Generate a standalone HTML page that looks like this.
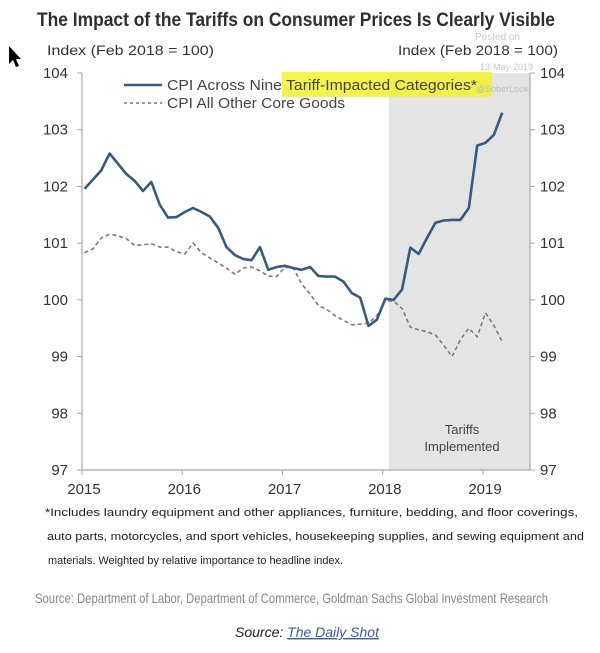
<!DOCTYPE html>
<html><head><meta charset="utf-8"><style>
html,body{margin:0;padding:0;background:#fff;width:600px;height:653px;overflow:hidden}
svg{display:block}
</style></head><body>
<svg id="chart" width="600" height="653" viewBox="0 0 600 653" xmlns="http://www.w3.org/2000/svg" font-family="Liberation Sans, Arial, sans-serif">
<path d="M9,46 L9,64 L13,60 L16,67 L19,66 L16,59 L21,59 Z" fill="#000"/>
<text x="37" y="26" font-size="19" font-weight="bold" fill="#2b2f36" textLength="518" lengthAdjust="spacingAndGlyphs" font-family="Liberation Sans Narrow, Liberation Sans, sans-serif">The Impact of the Tariffs on Consumer Prices Is Clearly Visible</text>
<text x="475" y="40" font-size="10" fill="#c8c8c8">Posted on</text>
<text x="480" y="70" font-size="9" fill="#c8c8c8">13-May-2019</text>
<text x="47" y="55" font-size="14" fill="#333" textLength="167" lengthAdjust="spacingAndGlyphs">Index (Feb 2018  = 100)</text>
<text x="398" y="55" font-size="14" fill="#333" textLength="160" lengthAdjust="spacingAndGlyphs">Index (Feb 2018 = 100)</text>
<rect x="389" y="73" width="141" height="397" fill="#e4e4e4"/>
<rect x="282" y="72" width="210" height="25" fill="#f3f230" opacity="0.85"/>
<g id="axes"></g>
<g id="series"></g>
<line x1="124" y1="85" x2="162" y2="85" stroke="#365a80" stroke-width="2.5"/>
<text x="167" y="90" font-size="15" fill="#444" textLength="310" lengthAdjust="spacingAndGlyphs">CPI Across Nine Tariff-Impacted Categories*</text>
<text x="476" y="92" font-size="9" fill="#bbb">@SoberLook</text>
<line x1="124" y1="103" x2="162" y2="103" stroke="#777" stroke-width="1.5" stroke-dasharray="3,3"/>
<text x="167" y="108" font-size="15" fill="#444" textLength="178" lengthAdjust="spacingAndGlyphs">CPI All Other Core Goods</text>
<text x="462" y="434" font-size="13" fill="#444" text-anchor="middle">Tariffs</text>
<text x="462" y="451" font-size="13" fill="#444" text-anchor="middle">Implemented</text>
<text x="45" y="516" font-size="11" fill="#222" textLength="533" lengthAdjust="spacingAndGlyphs">*Includes laundry equipment and other appliances, furniture, bedding, and floor coverings,</text>
<text x="47" y="540" font-size="11" fill="#222" textLength="537" lengthAdjust="spacingAndGlyphs">auto parts, motorcycles, and sport vehicles, housekeeping supplies, and sewing equipment and</text>
<text x="48" y="564" font-size="11" fill="#222" textLength="295" lengthAdjust="spacingAndGlyphs">materials. Weighted by relative importance to headline index.</text>
<text x="35" y="603" font-size="14" fill="#888" textLength="513" lengthAdjust="spacingAndGlyphs" font-family="Liberation Sans Narrow, Liberation Sans, sans-serif">Source: Department of Labor, Department of Commerce, Goldman Sachs Global Investment Research</text>
<text x="235" y="637" font-size="14" font-style="italic" fill="#222">Source: <tspan fill="#3b5b9a" text-decoration="underline">The Daily Shot</tspan></text>
</svg>
<script>
const yTicks = [97, 98, 99, 100, 101, 102, 103, 104];
const xTickLabels = ["2015", "2016", "2017", "2018", "2019"];
const tariffCpi = [101.96,102.12,102.28,102.58,102.4,102.22,102.1,101.92,102.08,101.68,101.45,101.46,
101.55,101.62,101.55,101.47,101.27,100.93,100.79,100.72,100.7,100.93,100.53,100.58,
100.6,100.56,100.53,100.58,100.42,100.41,100.41,100.32,100.12,100.04,99.54,99.65,
100.02,100.0,100.18,100.92,100.81,101.09,101.36,101.4,101.41,101.41,101.62,102.72,
102.77,102.91,103.3];
const otherCore = [100.83,100.9,101.09,101.16,101.13,101.08,100.96,100.97,100.99,100.93,100.93,100.85,
100.81,101.0,100.83,100.74,100.65,100.56,100.45,100.56,100.58,100.51,100.42,100.41,
100.58,100.56,100.28,100.1,99.9,99.83,99.72,99.64,99.56,99.57,99.59,99.72,
99.98,99.98,99.85,99.52,99.47,99.44,99.38,99.2,99.0,99.3,99.5,99.35,
99.77,99.55,99.26];
const NS = "http://www.w3.org/2000/svg";
const X0 = 82, X1 = 530, YTOP = 73, YBOT = 470;
function yScale(v){ return YBOT - (v - 97) / 7 * (YBOT - YTOP); }
function xYear(y){ return X0 + (y - 2015) * 100.25; }
function xMonth(i){ return xYear(2015 + (i + 0.3) / 12); }
function mk(tag, attrs, parent){ const e = document.createElementNS(NS, tag); for (const k in attrs) e.setAttribute(k, attrs[k]); parent.appendChild(e); return e; }
const axes = document.getElementById('axes');
const ax = "#a8a8a8";
let l = mk('line', {x1:X0, y1:YTOP, x2:X0, y2:YBOT, stroke:ax, 'stroke-width':1.2}, axes);


l = mk('line', {x1:X1, y1:YTOP, x2:X1, y2:YBOT, stroke:ax, 'stroke-width':1.2}, axes);


l = mk('line', {x1:X0, y1:YBOT, x2:X1, y2:YBOT, stroke:ax, 'stroke-width':1.2}, axes);


yTicks.forEach(v => {
  const y = yScale(v);
  mk('line', {x1:X0-5, y1:y, x2:X0, y2:y, stroke:ax}, axes);
  mk('line', {x1:X1, y1:y, x2:X1+5, y2:y, stroke:ax}, axes);
  const t1 = mk('text', {x:68, y:y+5, 'font-size':15, fill:'#333', 'text-anchor':'end'}, axes);
  t1.textContent = v;
  
  
  const t2 = mk('text', {x:540, y:y+5, 'font-size':15, fill:'#333'}, axes);
  t2.textContent = v;
  
  
});
xTickLabels.forEach(s => {
  const x = xYear(+s);
  mk('line', {x1:x, y1:YBOT, x2:x, y2:YBOT+5, stroke:ax}, axes);
  const t = mk('text', {x:x+2, y:494, 'font-size':15, fill:'#333', 'text-anchor':'middle'}, axes);
  t.textContent = s;
  
  
});
const series = document.getElementById('series');
function pts(arr){ return arr.map((v,i)=>xMonth(i).toFixed(1)+','+yScale(v).toFixed(1)).join(' '); }
const dashed = mk('polyline', {points:pts(otherCore), fill:'none', stroke:'#7a7a7a', 'stroke-width':1.6, 'stroke-dasharray':'4,3'}, series);


const solid = mk('polyline', {points:pts(tariffCpi), fill:'none', stroke:'#365a80', 'stroke-width':2.6, 'stroke-linejoin':'round'}, series);


</script>
</body></html>
